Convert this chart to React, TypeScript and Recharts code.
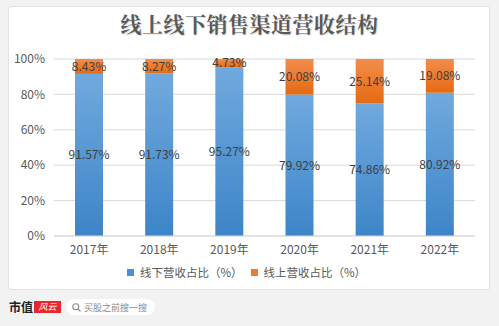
import { BarChart, Bar, XAxis, YAxis, CartesianGrid, Legend, LabelList } from "recharts";

const years = ["2017年", "2018年", "2019年", "2020年", "2021年", "2022年"];
const offlineShare = [91.57, 91.73, 95.27, 79.92, 74.86, 80.92];
const onlineShare = [8.43, 8.27, 4.73, 20.08, 25.14, 19.08];
const yTicks = [0, 20, 40, 60, 80, 100];

const data = years.map((y, i) => ({
  year: y,
  offline: offlineShare[i],
  online: onlineShare[i],
}));

const font = "'Noto Sans CJK SC', 'Noto Sans', sans-serif";
const pct = (v: any) => `${Number(v).toFixed(2)}%`;
const legendColors: Record<string, string> = { offline: "#4a90d2", online: "#ee7a2c" };

function LegendContent({ payload }: any) {
  const items = [...(payload || [])].sort((a: any, b: any) =>
    String(a.dataKey).localeCompare(String(b.dataKey))
  );
  return (
    <div style={{ display: "flex", justifyContent: "center", alignItems: "center", height: 20 }}>
      {items.map((it: any, i: number) => (
        <div
          key={it.dataKey}
          style={{ display: "flex", alignItems: "center", marginLeft: i ? 8 : 0 }}
        >
          <span
            style={{
              width: 7,
              height: 7,
              background: legendColors[it.dataKey],
              marginRight: 6,
              display: "inline-block",
            }}
          />
          <span style={{ fontSize: 11.5, color: "#595959", whiteSpace: "nowrap" }}>{it.value}</span>
        </div>
      ))}
    </div>
  );
}

export default function App() {
  return (
    <div
      style={{
        position: "absolute",
        left: 0,
        top: 0,
        width: 499,
        height: 326,
        background: "#f2f2f2",
        fontFamily: font,
        overflow: "hidden",
      }}
    >
      {/* white card */}
      <div
        style={{
          position: "absolute",
          left: 8,
          top: 6,
          width: 482,
          height: 284,
          background: "#fff",
          border: "1px solid #e2e2e2",
          borderRadius: 3,
          boxSizing: "border-box",
        }}
      />
      <div
        style={{
          position: "absolute",
          left: 0,
          top: 9,
          width: 499,
          textAlign: "center",
          fontSize: 21,
          fontWeight: 700,
          color: "#595959",
          lineHeight: "28px",
          fontFamily: "'Noto Serif CJK SC', 'Noto Sans CJK SC', serif",
          letterSpacing: 0.5,
          textShadow: "1px 1px 1px rgba(0,0,0,0.15)",
        }}
      >
        线上线下销售渠道营收结构
      </div>

      <div style={{ position: "absolute", left: 0, top: 0 }}>
        <BarChart
          width={499}
          height={282}
          data={data}
          margin={{ top: 59, right: 24, left: 0, bottom: 0 }}
          barSize={28}
        >
          <defs>
            <linearGradient id="gBlue" x1="0" y1="0" x2="0" y2="1">
              <stop offset="0%" stopColor="#70a9de" />
              <stop offset="100%" stopColor="#3d85c8" />
            </linearGradient>
            <linearGradient id="gOrange" x1="0" y1="0" x2="0" y2="1">
              <stop offset="0%" stopColor="#f28d4c" />
              <stop offset="100%" stopColor="#e66a12" />
            </linearGradient>
          </defs>
          <CartesianGrid vertical={false} stroke="#d9d9d9" />
          <XAxis
            dataKey="year"
            tickLine={false}
            axisLine={{ stroke: "#d9d9d9" }}
            tick={{ fill: "#595959", fontSize: 12, fontFamily: font }}
            tickMargin={3}
            height={26}
          />
          <YAxis
            width={54}
            domain={[0, 100]}
            ticks={yTicks}
            tickFormatter={(v) => `${v}%`}
            axisLine={false}
            tickLine={false}
            tickMargin={3}
            tick={{ fill: "#595959", fontSize: 12, fontFamily: font }}
          />
          <Legend
            verticalAlign="bottom"
            content={<LegendContent />}
            wrapperStyle={{ left: 8, width: 477, fontFamily: font }}
          />
          <Bar
            dataKey="offline"
            name="线下营收占比（%）"
            stackId="s"
            fill="url(#gBlue)"
            legendType="square"
            isAnimationActive={false}
          >
            <LabelList
              dataKey="offline"
              position="center"
              formatter={pct}
              fill="#404040"
              fontSize={12}
              fontFamily={font}
            />
          </Bar>
          <Bar
            dataKey="online"
            name="线上营收占比（%）"
            stackId="s"
            fill="url(#gOrange)"
            legendType="square"
            isAnimationActive={false}
          >
            <LabelList
              dataKey="online"
              position="center"
              formatter={pct}
              fill="#404040"
              fontSize={12}
              fontFamily={font}
            />
          </Bar>
        </BarChart>
      </div>

      {/* footer */}
      <div
        style={{
          position: "absolute",
          left: 9,
          top: 299,
          fontSize: 12,
          fontWeight: 700,
          color: "#222",
          lineHeight: "16px",
          whiteSpace: "nowrap",
        }}
      >
        市值
      </div>
      <div
        style={{
          position: "absolute",
          left: 34,
          top: 301,
          width: 27,
          height: 12,
          background: "#e8262b",
          color: "#fff",
          fontSize: 9,
          fontStyle: "italic",
          lineHeight: "12px",
          textAlign: "center",
          whiteSpace: "nowrap",
        }}
      >
        风云
      </div>
      <div
        style={{
          position: "absolute",
          left: 66,
          top: 299,
          width: 89,
          height: 16,
          background: "#fff",
          borderRadius: 8,
          display: "flex",
          alignItems: "center",
          paddingLeft: 6,
          boxSizing: "border-box",
          fontSize: 9,
          color: "#8a8a8a",
          whiteSpace: "nowrap",
        }}
      >
        <svg width={9} height={9} style={{ marginRight: 3, flexShrink: 0 }}>
          <circle cx={3.8} cy={3.8} r={3} fill="none" stroke="#8a8a8a" strokeWidth={1.1} />
          <line x1={6} y1={6} x2={8.5} y2={8.5} stroke="#8a8a8a" strokeWidth={1.1} />
        </svg>
        买股之前搜一搜
      </div>
    </div>
  );
}
